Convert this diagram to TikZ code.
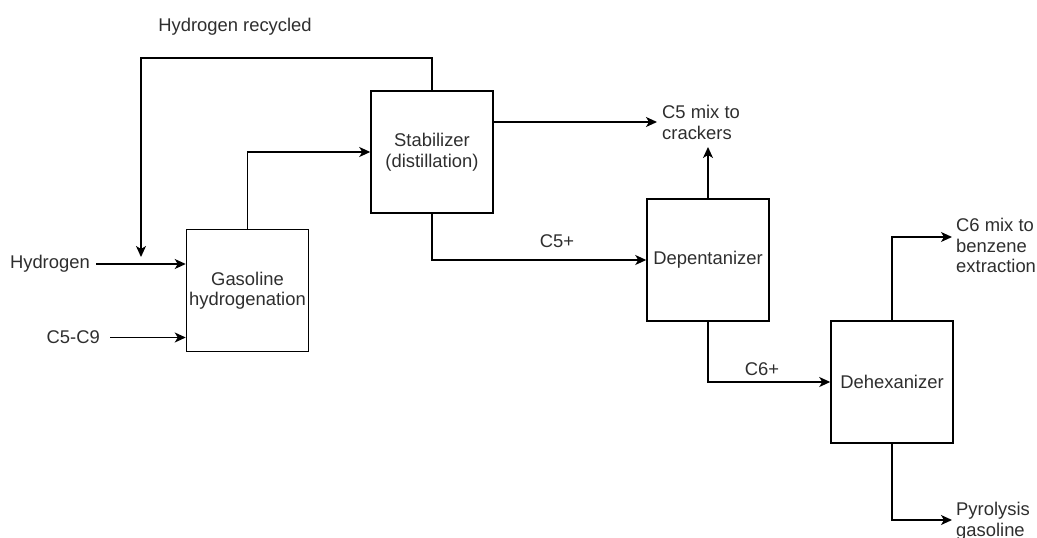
\documentclass[tikz,border=0pt]{standalone}
\usepackage{fontspec}
\setmainfont{Liberation Sans}
\usetikzlibrary{arrows.meta}
\begin{document}
\begin{tikzpicture}[x=1pt,y=-1pt,
  every node/.style={font=\fontsize{18.4}{20.5}\selectfont, text=black!82},
  unit/.style={draw=black, line width=1.5pt, minimum width=122pt, minimum height=122pt, inner sep=0pt, align=center},
  lbl/.style={inner sep=0pt, align=left},
  flow/.style={draw=black, line width=1.5pt, -{Stealth[length=11pt,width=10pt,inset=3pt]}}]
\useasboundingbox (0,0) rectangle (1037,538);

% process units
\node[unit] (gas)   at (247.5,290.5) {Gasoline\\hydrogenation};
\node[unit] (stab)  at (432,152)     {Stabilizer\\(distillation)};
\node[unit] (dep)   at (708,260)     {Depentanizer};
\node[unit] (dehex) at (892,382)     {Dehexanizer};

% feeds
\node[lbl, anchor=east] (hyd) at (90,264) {Hydrogen};
\node[lbl, anchor=east] (feed) at (100,337.5) {C5-C9};
\draw[flow] ([xshift=6pt]hyd.east) -- (gas.west |- hyd.east);
\draw[flow] ([xshift=10pt]feed.east) -- (gas.west |- feed.east);

% hydrogen recycle loop
\coordinate (rtop) at (432,58);
\coordinate (rend) at (141,257);
\draw[flow] (stab.north) -- (rtop) -- (rend |- rtop) -- (rend);
\node (reclbl) at (235,27) {Hydrogen recycled};

% hydrogenation to stabilizer
\draw[flow] (gas.north) |- (stab.west);

% light ends off the stabilizer and depentanizer
\node[lbl, anchor=west] (c5mix) at (662,122.5) {C5 mix to\\crackers};
\coordinate (c5end) at (657,122);
\draw[flow] (stab.east |- c5end) -- (c5end);
\draw[flow] (dep.north) -- (708,147);

\draw[flow] (stab.south) |- (dep.west);
\node (c5p) at (557,241) {C5+};

\draw[flow] (dep.south) |- (dehex.west);
\node (c6p) at (762,369) {C6+};

% dehexanizer products
\node[lbl, anchor=west] (c6mix) at (956,245.5) {C6 mix to\\benzene\\extraction};
\coordinate (c6end) at (952,237);
\draw[flow] (dehex.north) |- (c6end);

\node[lbl, anchor=west] (pyro) at (956,521) {Pyrolysis\\gasoline};
\coordinate (pyend) at (952,520);
\draw[flow] (dehex.south) |- (pyend);
\end{tikzpicture}
\end{document}
